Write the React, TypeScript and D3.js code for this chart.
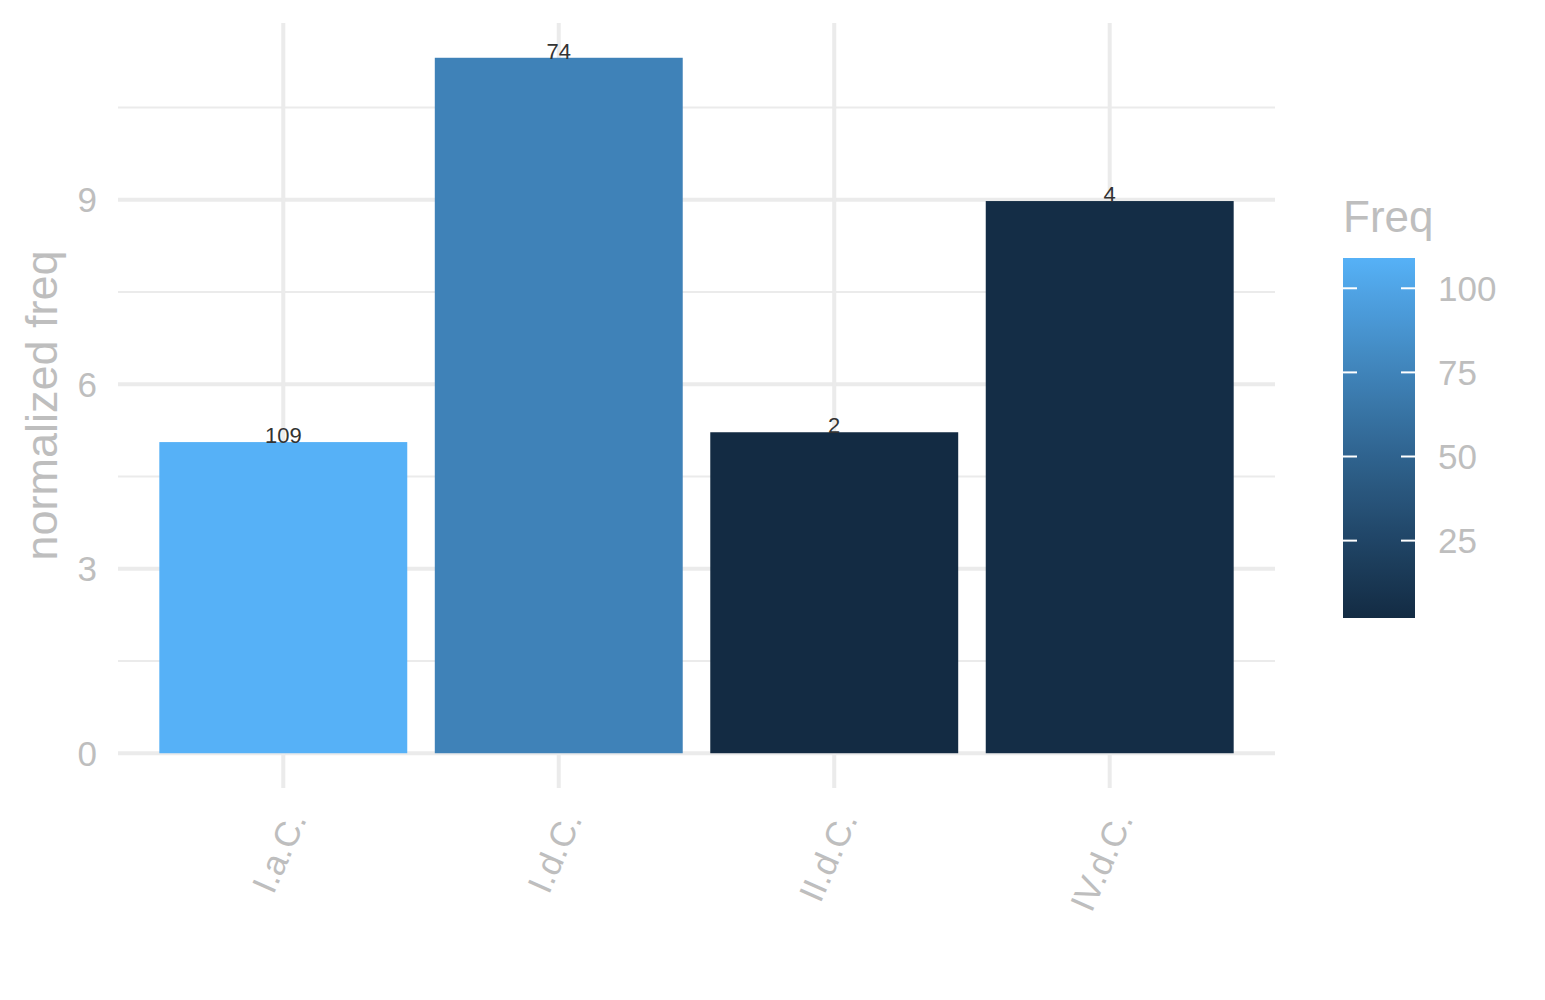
import * as d3 from "d3";

// bar categories, heights (normalized freq) and raw counts used for colour + labels
const categories = ["I.a.C.", "I.d.C.", "II.d.C.", "IV.d.C."];
const normFreq = [5.06, 11.31, 5.22, 8.98];
const counts = [109, 74, 2, 4];
const yTicks = [0, 3, 6, 9];
const yMinor = [1.5, 4.5, 7.5, 10.5];
const legendTicks = [25, 50, 75, 100];

const W = 1545;
const H = 1000;
const FONT = "'Liberation Sans', Arial, Helvetica, sans-serif";
const GREY = "#BEBEBE";
const GRID = "#EBEBEB";

export default function App() {
  const panel = { left: 118, right: 1275, top: 23, bottom: 788 };

  // discrete x like ggplot: 0.6 expansion each side, bars 0.9 wide
  const x = d3
    .scalePoint()
    .domain(categories)
    .range([panel.left, panel.right])
    .padding(0.6);
  const barW = x.step() * 0.9;

  const yMax = d3.max(normFreq) as number;
  const pad = yMax * 0.05;
  const y = d3
    .scaleLinear()
    .domain([-pad, yMax + pad])
    .range([panel.bottom, panel.top]);

  const color = d3
    .scaleLinear<string>()
    .domain([d3.min(counts) as number, d3.max(counts) as number])
    .range(["#132B43", "#56B1F7"])
    .interpolate(d3.interpolateLab);
  const [c0, c1] = color.domain();

  // legend colourbar
  const leg = { x: 1343, w: 72, top: 258, bottom: 618 };
  const ly = d3.scaleLinear().domain([c0, c1]).range([leg.bottom, leg.top]);
  const stops = d3.range(0, 1.0001, 0.05);

  return (
    <svg
      width={W}
      height={H}
      style={{ position: "absolute", left: 0, top: 0, background: "#fff" }}
      fontFamily={FONT}
    >
      <defs>
        <linearGradient id="freqGrad" x1="0" y1="1" x2="0" y2="0">
          {stops.map((t) => (
            <stop key={t} offset={t} stopColor={color(c0 + t * (c1 - c0))} />
          ))}
        </linearGradient>
      </defs>

      {/* minor grid */}
      {yMinor.map((v) => (
        <line key={"mn" + v} x1={panel.left} x2={panel.right} y1={y(v)} y2={y(v)} stroke={GRID} strokeWidth={2} />
      ))}
      {/* major grid */}
      {yTicks.map((v) => (
        <line key={"mj" + v} x1={panel.left} x2={panel.right} y1={y(v)} y2={y(v)} stroke={GRID} strokeWidth={4} />
      ))}
      {categories.map((c) => (
        <line key={"vx" + c} x1={x(c)} x2={x(c)} y1={panel.top} y2={panel.bottom} stroke={GRID} strokeWidth={4} />
      ))}

      {/* bars */}
      {categories.map((c, i) => (
        <rect
          key={"b" + c}
          x={(x(c) as number) - barW / 2}
          y={y(normFreq[i])}
          width={barW}
          height={y(0) - y(normFreq[i])}
          fill={color(counts[i])}
        />
      ))}

      {/* count labels */}
      {categories.map((c, i) => (
        <text key={"l" + c} x={x(c)} y={y(normFreq[i]) + 1} textAnchor="middle" fontSize={22} fill="#333">
          {counts[i]}
        </text>
      ))}

      {/* y tick labels */}
      {yTicks.map((v) => (
        <text key={"yt" + v} x={97} y={y(v)} dy="0.36em" textAnchor="end" fontSize={35} fill={GREY}>
          {v}
        </text>
      ))}

      {/* x tick labels */}
      {categories.map((c) => (
        <text
          key={"xt" + c}
          transform={`translate(${(x(c) as number) + 24},${819}) rotate(-66)`}
          textAnchor="end"
          fontSize={35}
          fill={GREY}
        >
          {c}
        </text>
      ))}

      {/* y axis title */}
      <text
        transform={`translate(57,${(panel.top + panel.bottom) / 2}) rotate(-90)`}
        textAnchor="middle"
        fontSize={45}
        fill={GREY}
      >
        normalized freq
      </text>

      {/* legend */}
      <text x={leg.x} y={232} fontSize={44} fill={GREY}>
        Freq
      </text>
      <rect x={leg.x} y={leg.top} width={leg.w} height={leg.bottom - leg.top} fill="url(#freqGrad)" />
      {legendTicks.map((t) => (
        <g key={"lt" + t}>
          <line x1={leg.x} x2={leg.x + 14} y1={ly(t)} y2={ly(t)} stroke="#fff" strokeWidth={2} />
          <line x1={leg.x + leg.w - 14} x2={leg.x + leg.w} y1={ly(t)} y2={ly(t)} stroke="#fff" strokeWidth={2} />
          <text x={1438} y={ly(t)} dy="0.36em" fontSize={35} fill={GREY}>
            {t}
          </text>
        </g>
      ))}
    </svg>
  );
}
